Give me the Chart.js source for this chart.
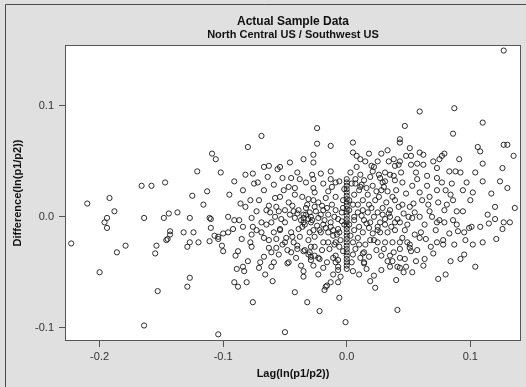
<!DOCTYPE html>
<html>
<head>
<meta charset="utf-8">
<script src="https://cdn.jsdelivr.net/npm/chart.js@4.4.1/dist/chart.umd.min.js"></script>
<style>
  html, body { margin: 0; padding: 0; background: #e0e0e0; }
  #wrap { width: 526px; height: 387px; }
</style>
</head>
<body>
<div id="wrap"><canvas id="c" width="526" height="387"></canvas></div>
<script>
// [lag, difference] pairs, grouped by area
const farWest = [
  [-0.223,-0.024],[-0.210,0.012],[-0.200,-0.050],[-0.196,-0.005],[-0.194,-0.001],[-0.194,-0.010],
  [-0.192,0.017],[-0.188,0.005],[-0.186,-0.032],[-0.179,-0.026],[-0.166,0.028],[-0.158,0.028],
  [-0.147,0.031],[-0.164,-0.001],[-0.164,-0.098],[-0.154,-0.026],[-0.155,-0.033],[-0.153,-0.067],
  [-0.148,-0.001],[-0.144,0.003],[-0.137,0.004],[-0.146,-0.021],[-0.145,-0.020],[-0.143,-0.016],
  [-0.143,-0.013],[-0.132,-0.014],[-0.129,-0.027],[-0.127,-0.023],[-0.127,-0.001],[-0.125,0.019],
  [-0.124,-0.014],[-0.121,0.041],[-0.120,-0.023],[-0.127,-0.055],[-0.129,-0.063],[-0.116,0.011],
  [-0.113,0.023],[-0.111,-0.001],[-0.111,-0.022],[-0.110,-0.010],[-0.109,0.057],[-0.106,0.052],
  [-0.107,-0.017],[-0.104,-0.020],[-0.104,-0.106],[-0.102,0.040],[-0.110,-0.002],[-0.100,-0.015],
  [-0.104,-0.018],[-0.101,-0.026],[-0.100,-0.031]
];
const west = [
  [-0.096,-0.014],[-0.092,-0.011],[-0.091,-0.003],[-0.087,-0.003],[-0.084,-0.009],[-0.090,-0.035],
  [-0.088,-0.031],[-0.091,-0.059],[-0.088,-0.063],[-0.081,-0.059],[-0.084,-0.045],[-0.083,-0.049],
  [-0.076,-0.077],[-0.080,0.063],[-0.084,0.024],[-0.082,0.038],[-0.076,0.039],[-0.075,0.030],
  [-0.082,0.009],[-0.077,-0.001],[-0.076,-0.009],[-0.077,-0.016],[-0.078,-0.023],[-0.077,-0.027],
  [-0.069,0.073],[-0.067,0.045],[-0.063,0.046],[-0.056,0.043],[-0.054,0.045],[-0.069,-0.014],
  [-0.067,-0.019],[-0.063,-0.021],[-0.061,-0.032],[-0.057,-0.028],[-0.055,-0.034],[-0.071,-0.046],
  [-0.070,-0.041],[-0.067,-0.036],[-0.061,-0.045],[-0.059,-0.041],[-0.048,-0.042],[-0.069,-0.005],
  [-0.061,-0.005],[-0.054,-0.011],[-0.049,-0.019],[-0.054,0.018],[-0.058,0.017],[-0.063,0.010],
  [-0.065,0.006],[-0.062,0.004],[-0.055,0.005],[-0.050,0.006],[-0.051,0.024],[-0.050,-0.104],
  [-0.073,0.005],[-0.071,0.015],[-0.067,0.024],[-0.059,0.029],[-0.052,0.035],[-0.073,-0.012],
  [-0.065,-0.007],[-0.059,-0.014],[-0.052,-0.025],[-0.063,-0.028],
  [-0.095,0.020],[-0.091,0.032],[-0.086,0.012],[-0.078,0.015],[-0.072,0.031],[-0.064,0.036],
  [-0.058,0.000],[-0.085,-0.020],[-0.080,-0.040],[-0.066,-0.052],[-0.060,-0.058],[-0.057,-0.020],
  [-0.096,0.000],[-0.089,-0.047]
];
const centreWest = [
  [-0.046,0.049],[-0.040,0.040],[-0.035,0.052],[-0.027,0.056],[-0.027,0.049],[-0.028,0.038],
  [-0.024,0.080],[-0.024,0.066],[-0.013,0.064],[-0.013,0.041],[-0.013,0.034],[-0.006,0.032],
  [-0.009,0.031],[-0.047,0.027],[-0.042,0.026],[-0.027,0.026],[-0.015,0.023],[-0.042,0.020],
  [-0.047,0.013],[-0.026,0.022],[-0.027,0.015],[-0.023,0.013],[-0.019,0.006],[-0.018,-0.003],
  [-0.013,-0.009],[-0.010,0.000],[-0.009,0.006],[-0.017,0.017],[-0.009,0.018],[-0.003,0.015],
  [-0.045,-0.014],[-0.043,-0.023],[-0.040,-0.026],[-0.034,-0.030],[-0.031,-0.034],[-0.029,-0.036],
  [-0.023,-0.037],[-0.035,-0.001],[-0.034,-0.007],[-0.029,0.000],[-0.027,-0.012],[-0.026,-0.018],
  [-0.021,-0.014],[-0.019,-0.023],[-0.026,-0.027],[-0.050,-0.005],[-0.042,-0.001],[-0.035,0.002],
  [-0.035,-0.005],[-0.029,-0.005],[-0.023,-0.001],[-0.015,0.002],[-0.013,-0.005],[-0.054,-0.012],
  [-0.039,-0.011],[-0.030,-0.014],[-0.022,-0.012],[-0.015,-0.014],[-0.007,-0.011],[-0.050,-0.023],
  [-0.029,-0.027],[-0.015,-0.023],[-0.009,-0.023],[-0.045,-0.032],[-0.040,-0.029],[-0.035,-0.031],
  [-0.030,-0.032],[-0.026,-0.035],[-0.022,-0.038],[-0.029,-0.039],[-0.011,-0.037],[-0.009,-0.041],
  [-0.007,-0.048],[-0.047,-0.041],[-0.035,-0.049],[-0.035,-0.054],[-0.023,-0.052],[-0.042,-0.068],
  [-0.032,-0.077],[-0.022,-0.085],[-0.018,-0.066],[-0.016,-0.062],[-0.013,-0.059],[-0.007,-0.059],
  [-0.005,-0.054],[-0.017,-0.063],[-0.006,-0.073],[-0.001,-0.095],[-0.009,-0.035],[-0.007,-0.039],
  [-0.007,-0.045],[-0.005,-0.021],[-0.010,-0.025],[-0.006,-0.027],[-0.002,-0.007],[-0.039,0.006],
  [-0.033,0.008],[-0.043,0.005],[-0.025,0.005],[-0.019,-0.007],[-0.038,-0.018],[-0.031,-0.021],
  [-0.011,-0.017],[-0.006,-0.014],[-0.004,0.004],[-0.046,0.002],[-0.037,-0.003],[-0.033,0.002],
  [-0.031,-0.002],[-0.007,-0.002],
  [-0.044,0.010],[-0.040,0.003],[-0.036,-0.009],[-0.032,0.011],[-0.030,0.004],[-0.028,-0.003],
  [-0.026,0.009],[-0.024,-0.008],[-0.021,0.002],[-0.020,0.010],[-0.017,-0.010],[-0.016,0.008],
  [-0.012,0.011],[-0.011,-0.012],[-0.008,-0.016],[-0.004,-0.004],[-0.003,0.008],[-0.012,0.027],
  [-0.019,0.030],[-0.033,0.031],[-0.038,0.034],[-0.021,0.039],[-0.036,0.018],[-0.031,0.016],
  [-0.048,-0.030],[-0.041,-0.037],[-0.037,-0.044],[-0.027,-0.044],[-0.019,-0.046],[-0.014,-0.029],
  [-0.016,-0.041],[-0.044,-0.018],[-0.053,-0.002],[-0.057,0.009],[-0.045,0.035],[-0.003,-0.031],
  [-0.002,0.025],[-0.020,-0.030],[-0.011,-0.052],[-0.027,0.034]
];
// the stack of points sitting on lag = 0
const zeroLagDiff = [
  0.034,0.031,0.028,0.025,0.022,0.019,0.016,0.013,0.010,0.007,0.004,0.001,-0.002,-0.005,
  -0.008,-0.011,-0.014,-0.017,-0.020,-0.023,-0.026,-0.029,-0.032,-0.035,-0.038,-0.041,-0.044,-0.047
];
const centreEast = [
  [0.005,0.067],[0.005,0.058],[0.008,0.055],[0.011,0.052],[0.015,0.050],[0.028,0.057],
  [0.022,0.045],[0.021,0.041],[0.034,0.050],[0.038,0.052],[0.039,0.046],[0.020,0.046],
  [0.043,0.050],[0.042,0.047],[0.043,0.070],[0.043,0.067],[0.047,0.082],[0.048,0.055],
  [0.052,0.055],[0.052,0.047],[0.051,0.062],[0.007,0.034],[0.011,0.038],[0.007,0.030],
  [0.012,0.029],[0.026,0.038],[0.031,0.040],[0.038,0.037],[0.031,0.032],[0.027,0.035],
  [0.029,0.031],[0.030,0.027],[0.033,0.023],[0.024,0.023],[0.037,0.018],[0.045,0.031],
  [0.053,0.028],[0.035,0.038],[0.039,0.033],[0.011,0.027],
  [0.006,-0.003],[0.010,-0.009],[0.013,-0.014],[0.014,-0.032],[0.005,-0.023],[0.010,-0.025],
  [0.022,-0.021],[0.031,-0.023],[0.037,-0.023],[0.006,-0.012],[0.025,-0.012],[0.033,-0.014],
  [0.039,-0.012],[0.006,0.000],[0.009,0.004],[0.014,-0.003],[0.022,0.000],[0.027,-0.005],
  [0.035,0.000],[0.039,-0.005],[0.017,0.004],[0.019,-0.005],[0.025,-0.009],[0.025,-0.023],
  [0.019,-0.021],[0.035,0.006],[0.043,-0.005],[0.027,-0.014],[0.051,0.009],[0.050,0.000],
  [0.053,-0.001],[0.055,0.004],[0.051,-0.025],[0.051,-0.028],[0.052,-0.031],[0.043,-0.029],
  [0.049,-0.023],[0.043,-0.023],[0.043,-0.037],[0.035,-0.035],[0.038,-0.032],[0.028,-0.035],
  [0.037,-0.040],[0.035,-0.045],[0.041,-0.045],[0.043,-0.046],[0.048,-0.045],[0.046,-0.050],
  [0.053,-0.050],[0.022,-0.053],[0.023,-0.064],[0.014,-0.042],[0.013,-0.033],[0.018,-0.036],
  [0.010,-0.052],[0.005,-0.049],[0.014,-0.041],[0.041,-0.084],
  [0.002,0.015],[0.006,0.020],[0.013,0.015],[0.018,0.011],[0.009,0.011],[0.023,0.015],
  [0.029,0.008],[0.017,0.020],[0.013,0.006],[0.002,0.006],[0.002,-0.007],[0.018,-0.010],
  [0.031,-0.007],[0.009,-0.019],[0.015,-0.025],[0.005,-0.034],[0.029,0.002],[0.039,0.015],
  [0.045,0.011],[0.047,-0.012],[0.045,-0.019],[0.055,-0.016],[0.010,0.024],[0.005,0.011],
  [0.003,0.040],[0.004,0.030],[0.008,0.045],[0.014,0.033],[0.016,0.026],[0.019,0.036],
  [0.021,0.028],[0.026,0.018],[0.028,0.024],[0.032,0.013],[0.034,0.003],[0.036,-0.009],
  [0.041,-0.002],[0.042,0.009],[0.046,0.003],[0.048,0.021],[0.044,0.040],[0.049,-0.007],
  [0.021,-0.015],[0.024,-0.030],[0.030,-0.029],[0.033,-0.040],[0.016,-0.047],[0.019,-0.058],
  [0.028,-0.048],[0.003,-0.017],[0.007,-0.029],[0.011,-0.037],[0.004,-0.041],[0.016,-0.006],
  [0.012,0.001],[0.020,0.008],[0.025,0.004],[0.031,-0.002],[0.040,0.024],[0.054,0.012],
  [0.056,0.040],[0.018,0.057],[0.033,0.060],[0.025,0.050],[0.047,-0.038],[0.056,-0.040],
  [0.040,-0.057]
];
const east = [
  [0.059,0.095],[0.087,0.098],[0.110,0.085],[0.086,0.075],[0.059,0.058],[0.062,0.056],
  [0.079,0.057],[0.077,0.055],[0.075,0.052],[0.106,0.063],[0.108,0.059],[0.127,0.065],
  [0.130,0.065],[0.135,0.055],[0.127,0.150],[0.110,0.048],[0.126,0.044],[0.124,0.032],
  [0.130,0.026],[0.110,0.032],[0.057,0.048],[0.062,0.047],[0.073,0.044],[0.083,0.041],
  [0.088,0.041],[0.092,0.040],[0.057,0.034],[0.065,0.028],[0.073,0.035],[0.077,0.031],
  [0.073,0.024],[0.080,0.024],[0.084,0.020],[0.086,0.015],[0.059,0.022],[0.067,0.018],
  [0.074,0.013],[0.079,0.006],[0.067,0.005],[0.069,0.000],[0.073,-0.005],[0.072,-0.012],
  [0.059,0.000],[0.063,-0.007],[0.060,-0.014],[0.059,-0.019],[0.094,0.024],[0.102,0.022],
  [0.100,0.015],[0.094,0.005],[0.120,0.009],[0.136,0.008],[0.120,-0.002],[0.127,-0.005],
  [0.132,-0.005],[0.126,-0.011],[0.115,-0.006],[0.108,-0.009],[0.101,-0.009],[0.099,-0.010],
  [0.089,-0.007],[0.095,-0.014],[0.090,-0.013],[0.110,-0.023],[0.102,-0.025],[0.087,-0.025],
  [0.078,-0.025],[0.095,-0.034],[0.092,-0.038],[0.080,-0.052],[0.074,-0.056],[0.063,-0.038],
  [0.062,-0.044],[0.064,-0.020],[0.068,-0.027],[0.073,-0.023],[0.078,-0.021],[0.075,-0.003],
  [0.079,-0.005],[0.086,-0.003],[0.057,-0.030],[0.061,0.015],[0.081,0.011],[0.089,0.005],
  [0.065,0.037],[0.070,0.050],[0.085,0.030],[0.097,0.031],[0.104,0.040],[0.117,0.021],
  [0.114,0.002],[0.083,-0.015],[0.096,-0.021],[0.070,-0.033],[0.084,-0.040],[0.066,0.011],
  [0.121,-0.020],[0.104,-0.045],[0.091,0.052]
];

const xTicks = [-0.2, -0.1, 0.0, 0.1];
const yTicks = [-0.1, 0.0, 0.1];
const xRange = [-0.228, 0.141];
const yRange = [-0.112, 0.155];

const points = []
  .concat(farWest, west, centreWest, centreEast, east)
  .map(p => ({ x: p[0], y: p[1] }))
  .concat(zeroLagDiff.map(v => ({ x: 0, y: v })));

const FONT = "'Liberation Sans', Arial, sans-serif";

// grey panel, window edge and white plot box
const frame = {
  id: 'frame',
  beforeDraw(chart) {
    const { ctx, chartArea: a, width, height } = chart;
    ctx.save();
    ctx.fillStyle = '#e0e0e0';
    ctx.fillRect(0, 0, width, height);
    ctx.strokeStyle = '#4a4a4a';
    ctx.lineWidth = 1;
    ctx.beginPath();
    ctx.moveTo(5.5, height);
    ctx.lineTo(5.5, 4.5);
    ctx.lineTo(width, 4.5);
    ctx.stroke();
    ctx.fillStyle = '#ffffff';
    ctx.fillRect(a.left, a.top, a.right - a.left, a.bottom - a.top);
    ctx.restore();
  },
  afterDraw(chart) {
    const { ctx, chartArea: a } = chart;
    ctx.save();
    ctx.strokeStyle = '#555555';
    ctx.lineWidth = 1;
    ctx.strokeRect(a.left + 0.5, a.top + 0.5, a.right - a.left - 1, a.bottom - a.top - 1);
    ctx.restore();
  }
};

new Chart(document.getElementById('c'), {
  type: 'scatter',
  data: {
    datasets: [{
      data: points,
      pointStyle: 'circle',
      pointRadius: 2.6,
      pointBorderWidth: 1,
      borderColor: 'rgba(25,25,25,0.9)',
      backgroundColor: 'rgba(0,0,0,0)'
    }]
  },
  options: {
    responsive: false,
    animation: false,
    layout: { padding: { left: 0, right: 2, top: 0, bottom: 0 } },
    plugins: {
      legend: { display: false },
      tooltip: { enabled: false },
      title: {
        display: true,
        text: 'Actual Sample Data',
        fullSize: false,
        color: '#111',
        font: { family: FONT, size: 12, weight: 'bold' },
        padding: { top: 14, bottom: 0 }
      },
      subtitle: {
        display: true,
        text: 'North Central US / Southwest US',
        fullSize: false,
        color: '#111',
        font: { family: FONT, size: 11, weight: 'bold' },
        padding: { top: 0, bottom: 3.4 }
      }
    },
    scales: {
      x: {
        type: 'linear',
        min: xRange[0],
        max: xRange[1],
        afterBuildTicks: s => { s.ticks = xTicks.map(v => ({ value: v })); },
        afterFit: s => { s.height = 46; },
        border: { display: false },
        grid: { drawOnChartArea: false, drawTicks: true, tickLength: 6, tickColor: '#555' },
        ticks: {
          color: '#333',
          padding: 3,
          maxRotation: 0,
          font: { family: FONT, size: 11 },
          callback: v => v.toFixed(1)
        },
        title: {
          display: true,
          text: 'Lag(ln(p1/p2))',
          color: '#111',
          font: { family: FONT, size: 11, weight: 'bold' },
          padding: { top: 0, bottom: 6 }
        }
      },
      y: {
        type: 'linear',
        min: yRange[0],
        max: yRange[1],
        afterBuildTicks: s => { s.ticks = yTicks.map(v => ({ value: v })); },
        afterFit: s => { s.width = 65; },
        border: { display: false },
        grid: { drawOnChartArea: false, drawTicks: true, tickLength: 6, tickColor: '#555' },
        ticks: {
          color: '#333',
          padding: 5,
          font: { family: FONT, size: 11 },
          callback: v => v.toFixed(1)
        },
        title: {
          display: true,
          text: 'Difference(ln(p1/p2))',
          color: '#111',
          font: { family: FONT, size: 11, weight: 'bold' },
          padding: { top: 11, bottom: 0 }
        }
      }
    }
  },
  plugins: [frame]
});
</script>
</body>
</html>
